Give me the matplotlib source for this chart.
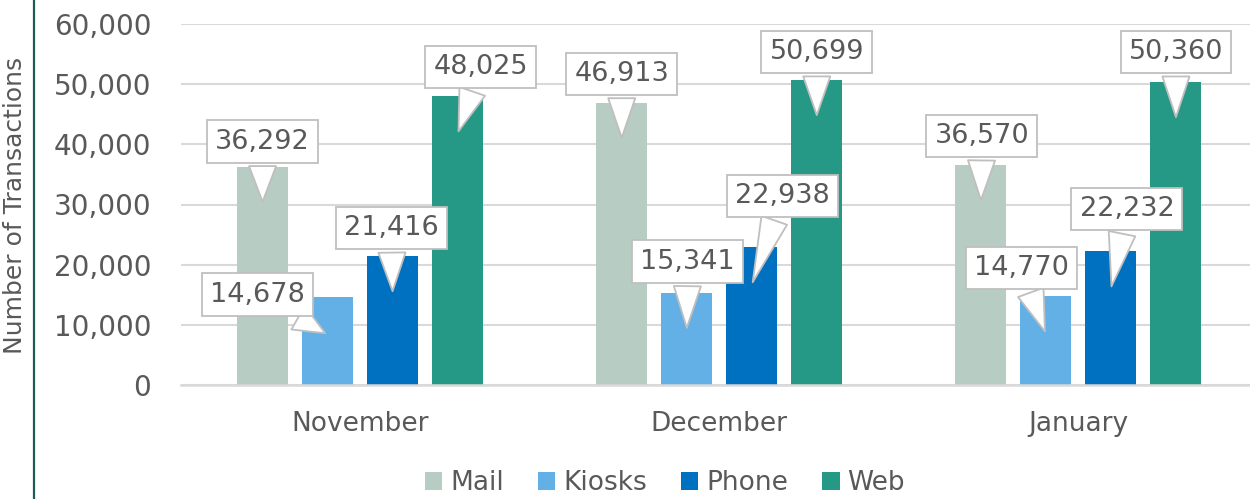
import numpy as np
import matplotlib
matplotlib.use("Agg")
from matplotlib import pyplot as plt
from matplotlib.lines import Line2D

# data
months = ["November", "December", "January"]
channels = ["Mail", "Kiosks", "Phone", "Web"]
mail = [36292, 46913, 36570]
kiosks = [14678, 15341, 14770]
phone = [21416, 22938, 22232]
web = [48025, 50699, 50360]
yticks = [0, 10000, 20000, 30000, 40000, 50000, 60000]

colors = ["#B7CCC2", "#63B0E6", "#0070C0", "#269986"]
txt = "#595959"

# callout box offsets (pixels) from pointer tip, per channel per month
offsets = {
    "Mail":   [(0, 63), (0, 67), (1, 67)],
    "Kiosks": [(-70, 40), (1, 69), (-24, 66)],
    "Phone":  [(-1, 66), (31, 89), (16, 80)],
    "Web":    [(23, 67), (0, 66), (0, 68)],
}

plt.rcParams['font.family'] = ['DejaVu Sans']

fig = plt.figure(figsize=(12.5, 4.99), dpi=100)
ax = fig.add_axes([180.5/1250, 114/499, (1258-180.5)/1250, 361/499])

x = np.arange(len(months))
step = 0.181
width = 0.142
series = [mail, kiosks, phone, web]
for i, (name, vals) in enumerate(zip(channels, series)):
    xs = x + (i - 1.5)*step
    ax.bar(xs, vals, width, color=colors[i], label=name, zorder=2)
    for j, v in enumerate(vals):
        dx, dy = offsets[name][j]
        ax.annotate(f"{v:,}", xy=(xs[j], v - 6300), xytext=(dx, dy),
                    textcoords="offset pixels", ha="center", va="center",
                    fontsize=19.5, color=txt, zorder=5,
                    bbox=dict(boxstyle="square,pad=0.3", fc="white", ec="#BFBFBF", lw=1.3),
                    arrowprops=dict(arrowstyle="wedge,tail_width=1.0,shrink_factor=0.5",
                                    fc="white", ec="#BFBFBF", lw=1.3))

ax.set_xlim(-0.5, 2.5)
ax.set_ylim(0, 60000)
ax.set_yticks(yticks)
ax.set_yticklabels([f"{t:,}" for t in yticks])
ax.set_xticks(x)
ax.set_xticklabels(months)
ax.tick_params(axis="y", length=0, pad=21, labelsize=20, labelcolor=txt)
ax.tick_params(axis="x", length=0, pad=19, labelsize=19, labelcolor=txt)
ax.grid(axis="y", color="#D9D9D9", lw=1.5, zorder=0)
ax.set_axisbelow(True)
for s in ["top", "right", "left"]:
    ax.spines[s].set_visible(False)
ax.spines["bottom"].set_color("#D9D9D9")
ax.spines["bottom"].set_linewidth(1.8)

fig.text(15/1250, 1 - 205/499, "Number of Transactions", rotation=90,
         ha="center", va="center", fontsize=18, color=txt)

fig.add_artist(Line2D([34/1250, 34/1250], [0, 1], transform=fig.transFigure,
                      color="#1E5B5B", lw=1.6))

fig.legend(loc="center", bbox_to_anchor=(665/1250, 1 - 483/499), ncol=4,
           frameon=False, fontsize=19, labelcolor=txt, handlelength=0.65,
           handleheight=0.65, handletextpad=0.3, columnspacing=1.3)

fig.savefig("out.png", dpi=100)
